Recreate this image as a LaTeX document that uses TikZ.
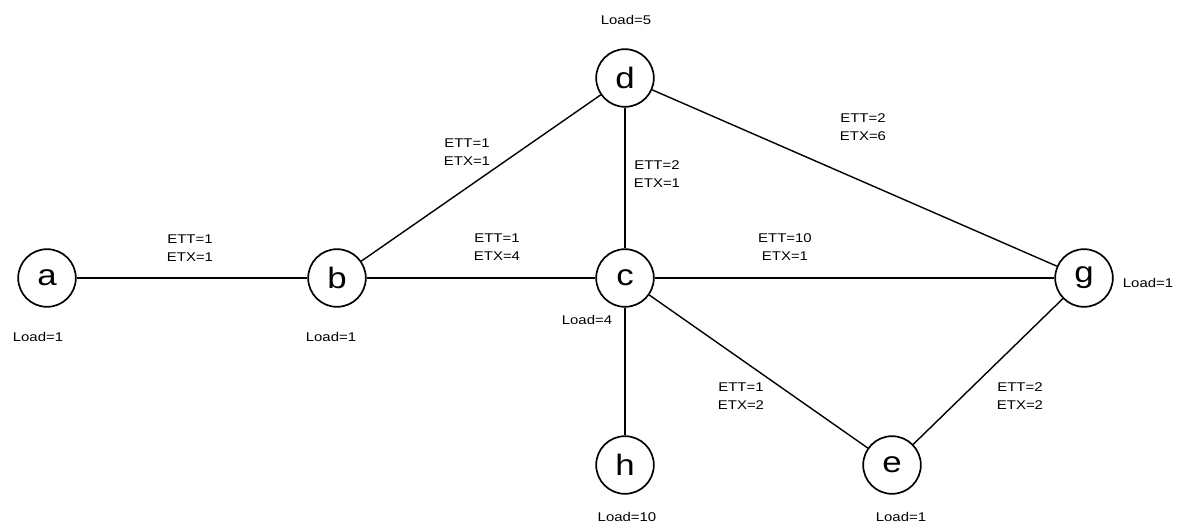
\documentclass[tikz,border=0pt]{standalone}
\usepackage{fontspec}
\setmainfont{Liberation Sans}
\newfontfamily\widesans[FakeStretch=1.18]{Liberation Sans}
\usepackage{tikz}
\tikzset{
	station/.style={circle, draw=black, line width=1.2pt, minimum size=41pt, inner sep=0pt, font=\widesans\fontsize{21}{24}\selectfont},
	metric/.style={align=center, inner sep=0pt, font=\widesans\fontsize{9}{12.8}\selectfont},
	load/.style={inner sep=0pt, font=\widesans\fontsize{9}{12.8}\selectfont},
	link/.style={line width=1pt}
}

\begin{document}
\begin{tikzpicture}[x=0.025cm, y=-0.025cm]
			\useasboundingbox (0,0) rectangle (1181,527);
			\node[station] (a) at (47,278) {a};
			\node[station] (b) at (337,278) {b};
			\node[station] (c) at (625,278) {c};
			\node[station] (d) at (625,78) {d};
			\node[station] (g) at (1084,278) {g};
			\node[station] (h) at (625,465) {h};
			\node[station] (e) at (892,465) {e};
			\draw[link] (a) -- (b);
			\draw[link] (b) -- (c);
			\draw[link] (b) -- (d);
			\draw[link] (d) -- (c);
			\draw[link] (d) -- (g);
			\draw[link] (c) -- (g);
			\draw[link] (c) -- (h);
			\draw[link] (c) -- (e);
			\draw[link] (e) -- (g);
			\node[metric] (ab) at (190,248) {ETT=1\\ETX=1};
			\node[metric] (bd) at (467,152) {ETT=1\\ETX=1};
			\node[metric] (dc) at (657,174) {ETT=2\\ETX=1};
			\node[metric] (dg) at (863,127) {ETT=2\\ETX=6};
			\node[metric] (bc) at (497,247) {ETT=1\\ETX=4};
			\node[metric] (cg) at (785,247) {ETT=10\\ETX=1};
			\node[metric] (ce) at (741,396) {ETT=1\\ETX=2};
			\node[metric] (eg) at (1020,396) {ETT=2\\ETX=2};
			\node[load] (la) at (38,337) {Load=1};
			\node[load] (lb) at (331,337) {Load=1};
			\node[load] (lc) at (587,320) {Load=4};
			\node[load] (ld) at (626,20) {Load=5};
			\node[load] (lg) at (1148,283) {Load=1};
			\node[load] (lh) at (627,517) {Load=10};
			\node[load] (le) at (901,517) {Load=1};
		\end{tikzpicture}
\end{document}
